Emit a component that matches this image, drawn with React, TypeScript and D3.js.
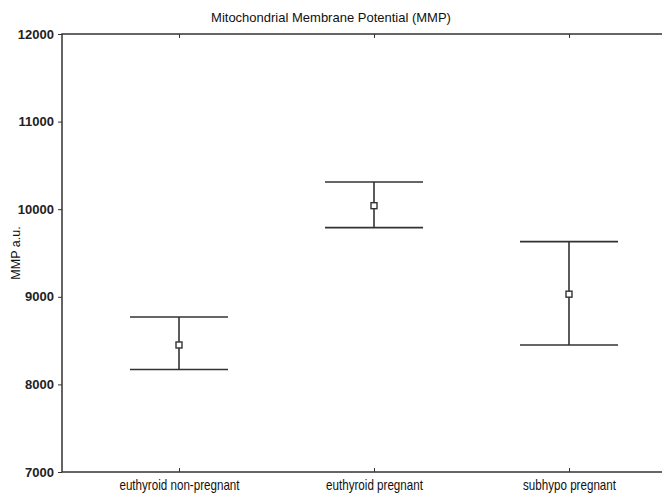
import React, { useEffect, useRef } from "react";
import * as d3 from "d3";

const groups = ["euthyroid non-pregnant", "euthyroid pregnant", "subhypo pregnant"];
const means = [8450, 10040, 9030];
const upper = [8770, 10310, 9630];
const lower = [8170, 9790, 8450];
const yTicks = [7000, 8000, 9000, 10000, 11000, 12000];

const W = 662;
const H = 495;

const App = () => {
  const svgRef = useRef<SVGSVGElement>(null);

  useEffect(() => {
    document.body.style.margin = "0";
    const svg = d3.select(svgRef.current);
    svg.selectAll("*").remove();

    const left = 62, top = 34, bottom = 472;
    const x = d3.scaleLinear().domain([0.4, 3.6]).range([left, left + 3.2 * 195]);
    const y = d3.scaleLinear().domain([7000, 12000]).range([bottom, top]);
    const ink = "#333";
    const font = "'Liberation Sans', Arial, sans-serif";

    // frame
    svg.append("rect")
      .attr("x", x(0.4)).attr("y", y(12000))
      .attr("width", x(3.6) - x(0.4)).attr("height", y(7000) - y(12000))
      .attr("fill", "none").attr("stroke", ink).attr("stroke-width", 1.5);

    // y axis
    const yAxis = d3.axisLeft(y).tickValues(yTicks).tickFormat(d3.format("d"))
      .tickSize(4).tickSizeOuter(0).tickPadding(4);
    const gy = svg.append("g").attr("transform", `translate(${left},0)`).call(yAxis);
    gy.select(".domain").remove();
    gy.selectAll("line").attr("stroke", ink);
    gy.selectAll("text")
      .attr("font-family", font).attr("font-size", 13).attr("font-weight", "bold")
      .attr("fill", "#222");

    // x axis bottom
    const xAxis = d3.axisBottom(x).tickValues([1, 2, 3])
      .tickFormat((d, i) => groups[i]).tickSize(-4).tickSizeOuter(0).tickPadding(8);
    const gx = svg.append("g").attr("transform", `translate(0,${bottom})`).call(xAxis);
    gx.select(".domain").remove();
    gx.selectAll("line").attr("stroke", ink);
    gx.selectAll("text")
      .attr("font-family", font).attr("font-size", 14).attr("fill", "#111")
      .attr("transform", "scale(0.83,1)");

    // top ticks
    const gt = svg.append("g").attr("transform", `translate(0,${top})`)
      .call(d3.axisTop(x).tickValues([1, 2, 3]).tickSize(-4).tickFormat(() => ""));
    gt.select(".domain").remove();
    gt.selectAll("line").attr("stroke", ink);

    // error bars
    const idx = d3.range(groups.length);
    const half = 49;
    const g = svg.append("g").attr("stroke", ink).attr("stroke-width", 1.6);
    g.selectAll(".whisker").data(idx).join("line").attr("class", "whisker")
      .attr("x1", (i) => x(i + 1)).attr("x2", (i) => x(i + 1))
      .attr("y1", (i) => y(upper[i])).attr("y2", (i) => y(lower[i]));
    g.selectAll(".capU").data(idx).join("line").attr("class", "capU")
      .attr("x1", (i) => x(i + 1) - half).attr("x2", (i) => x(i + 1) + half)
      .attr("y1", (i) => y(upper[i])).attr("y2", (i) => y(upper[i]));
    g.selectAll(".capL").data(idx).join("line").attr("class", "capL")
      .attr("x1", (i) => x(i + 1) - half).attr("x2", (i) => x(i + 1) + half)
      .attr("y1", (i) => y(lower[i])).attr("y2", (i) => y(lower[i]));
    g.selectAll(".mean").data(idx).join("rect").attr("class", "mean")
      .attr("x", (i) => x(i + 1) - 3).attr("y", (i) => y(means[i]) - 3)
      .attr("width", 6).attr("height", 6)
      .attr("fill", "#fff").attr("stroke-width", 1.4);

    // title
    svg.append("text").attr("x", W / 2).attr("y", 22).attr("text-anchor", "middle")
      .attr("font-family", font).attr("font-size", 13).attr("fill", "#111")
      .text("Mitochondrial Membrane Potential (MMP)");

    // y label
    svg.append("text")
      .attr("transform", `translate(20,${(top + bottom) / 2}) rotate(-90)`)
      .attr("text-anchor", "middle")
      .attr("font-family", font).attr("font-size", 12.5).attr("fill", "#111")
      .text("MMP a.u.");
  }, []);

  return (
    <svg ref={svgRef} width={W} height={H}
      style={{ position: "absolute", left: 0, top: 0, background: "#fff" }} />
  );
};

export default App;
